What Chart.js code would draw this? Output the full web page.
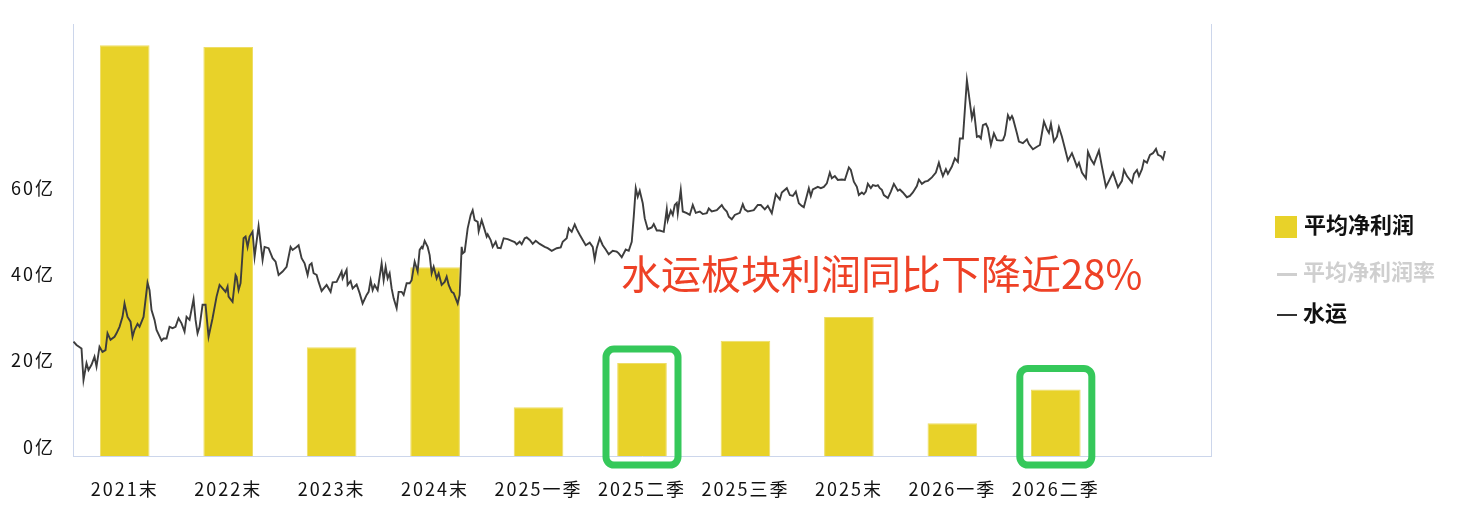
<!DOCTYPE html>
<html>
<head>
<meta charset="utf-8">
<script src="https://cdn.jsdelivr.net/npm/chart.js@4.4.1/dist/chart.umd.min.js"></script>
<style>
  body { margin: 0; background: #fff; }
  #wrap { position: relative; width: 1461px; height: 520px; font-family: "Noto Sans CJK SC", sans-serif; }
  #note { position: absolute; left: 621px; top: 252px; font-size: 40px; line-height: 1; color: #ee4126; white-space: nowrap; }
  .lg { position: absolute; left: 1275px; font-size: 22px; font-weight: 700; line-height: 1; white-space: nowrap; }
  .lg i { display: inline-block; vertical-align: middle; margin-right: 7px; }
</style>
</head>
<body>
<div id="wrap">
  <canvas id="chart"></canvas>
  <div id="note">水运板块利润同比下降近28%</div>
  <div class="lg" style="top:212px;color:#111"><i style="width:22px;height:22px;background:#e8d229"></i>平均净利润</div>
  <div class="lg" style="top:259px;color:#cfcfcf"><i style="width:20px;height:3px;background:#cfcfcf;margin-left:2px;margin-right:6px"></i>平均净利润率</div>
  <div class="lg" style="top:300px;color:#111"><i style="width:20px;height:2px;background:#333;margin-left:2px;margin-right:6px"></i>水运</div>
</div>
<script>
// periods on the x axis (last slot is left empty)
const categories = ['2021末', '2022末', '2023末', '2024末', '2025一季', '2025二季', '2025三季', '2025末', '2026一季', '2026二季', ''];
// average net profit, 亿
const avgProfit = [95.1, 94.7, 25.2, 43.7, 11.3, 21.5, 26.7, 32.2, 7.6, 15.4, null];
const yTicks = [0, 20, 40, 60];

// 水运 index, trading-day offset and level (hidden axis)
const lineDay = [0,3,8,10,13,15,18,21,23,26,29,32,34,37,41,43,46,49,51,54,57,59,61,64,66,70,74,76,78,81,83,88,90,93,96,99,102,105,108,111,113,116,120,122,124,126,129,132,135,139,143,146,149,152,154,155,159,162,163,165,167,170,172,174,176,179,181,185,189,191,195,199,202,205,209,213,217,219,223,225,228,231,234,236,238,240,243,245,248,253,257,259,263,268,269,273,274,277,279,283,286,289,293,295,297,299,301,304,308,310,312,314,316,318,320,323,325,328,330,333,336,338,341,344,346,348,349,351,354,356,358,360,363,365,368,371,373,375,378,380,384,386,388,389,391,394,397,399,401,404,405,408,410,413,414,417,419,422,424,427,430,434,438,441,443,446,448,451,453,456,459,462,466,471,474,478,483,487,489,493,495,498,501,503,506,509,512,516,519,521,523,526,529,532,535,539,543,545,548,552,555,558,560,562,564,566,569,571,574,578,580,583,586,590,593,594,597,599,601,603,604,607,609,613,616,619,622,626,629,633,635,638,643,648,650,653,655,658,661,666,669,671,674,678,680,684,687,691,694,698,702,704,706,708,713,716,719,722,725,728,730,735,737,739,744,747,750,753,756,758,761,764,768,771,775,777,780,783,785,788,790,792,794,797,799,802,804,806,808,810,814,817,820,824,826,829,833,836,839,843,845,848,851,854,858,862,865,867,869,872,874,878,881,884,886,889,893,895,898,900,903,905,907,909,912,914,917,920,923,927,929,931,934,936,938,939,943,945,949,953,955,959,963,966,970,973,975,977,980,983,985,988,991,994,998,1000,1003,1005,1008,1012,1014,1017,1020,1022,1025,1028,1032,1035,1039,1044,1048,1050,1053,1058,1060,1063,1065,1068,1070,1073,1076,1079,1082,1084,1087,1089,1091];
const lineValue = [26.5,25.7,24.9,17.6,21.5,19.9,21.1,23.0,20.7,25.3,24.1,24.5,28.4,26.9,27.6,28.4,29.9,32.2,35.3,32.2,31.1,27.6,29.2,30.6,29.9,32.2,40.1,38.4,33.8,31.5,29.2,26.7,27.2,27.2,29.9,29.6,29.9,31.9,30.7,28.8,32.2,31.5,36.3,31.5,28.4,29.9,35.0,35.0,27.6,31.9,36.9,39.6,38.8,38.0,39.2,36.9,35.7,41.9,41.5,38.4,40.0,50.4,50.8,48.4,50.8,51.9,46.1,53.2,45.4,48.4,48.1,45.8,45.0,41.9,42.7,43.8,48.4,47.7,48.4,48.8,45.8,44.6,41.9,44.2,44.6,42.3,41.9,40.3,38.2,39.6,38.0,40.2,40.3,42.7,41.1,43.1,39.6,40.5,38.8,39.7,37.7,35.3,37.3,38.0,40.7,38.4,39.6,38.4,44.6,40.7,43.8,41.1,42.3,38.8,36.5,34.2,38.0,38.0,37.3,40.0,40.0,40.7,45.0,42.7,47.7,48.4,48.1,49.8,48.4,46.5,42.3,43.8,41.1,42.3,39.6,40.3,41.5,39.6,38.0,37.7,35.3,37.3,48.4,46.9,47.3,52.7,55.8,56.9,54.6,54.2,52.0,54.6,53.1,50.8,51.3,50.0,48.4,49.6,48.2,48.1,50.4,50.2,49.8,49.5,49.0,49.6,49.0,50.4,50.6,50.0,49.1,49.8,49.1,48.4,48.1,47.5,48.1,48.3,49.6,50.4,52.7,51.9,53.6,52.5,51.2,50.0,48.8,49.4,48.4,45.5,48.1,50.4,48.8,47.8,46.7,47.5,47.3,46.9,46.0,47.8,47.5,49.6,55.4,62.0,60.0,61.4,58.5,55.0,52.5,52.9,53.7,52.2,52.2,51.9,57.1,54.6,56.8,55.8,58.1,58.6,56.2,61.6,56.6,56.2,55.8,58.1,56.3,56.6,56.0,56.2,57.3,56.6,56.9,58.1,57.3,56.6,55.4,54.8,55.8,56.3,58.3,57.1,56.6,56.8,56.9,58.1,58.1,57.1,57.9,56.2,60.6,60.0,59.4,61.0,62.0,60.4,60.2,61.2,58.5,57.9,57.6,62.0,60.2,61.7,62.3,62.0,62.3,63.1,65.6,64.3,64.8,63.9,64.0,63.9,66.8,66.2,63.5,62.3,60.4,61.0,60.6,61.2,63.0,62.0,62.7,62.5,62.7,62.0,61.6,60.4,59.7,61.2,63.0,61.4,61.7,61.0,59.9,60.2,61.0,62.5,64.0,63.0,63.5,63.7,64.5,65.6,67.9,66.2,64.8,66.4,65.3,67.0,68.9,68.1,73.5,73.5,87.0,83.6,78.2,80.1,73.9,74.1,73.5,76.6,76.9,75.9,72.0,74.7,73.1,73.0,73.1,74.3,78.9,77.9,78.7,78.2,74.7,72.8,72.4,73.3,72.2,71.0,71.6,72.0,77.4,75.6,74.8,76.9,72.8,73.9,76.1,73.9,71.2,68.4,70.1,68.9,67.0,67.9,65.6,64.3,70.4,68.7,67.6,68.9,70.7,67.0,62.3,63.7,65.6,62.2,63.7,66.2,64.8,63.3,65.3,66.2,64.8,66.4,68.4,67.9,69.7,70.1,71.1,69.7,69.4,68.7,70.6];

// green frames drawn round two bars
const highlights = [
  { category: '2025二季', above: 14 },
  { category: '2026二季', above: 21 }
];

const axisLine = '#ccd6eb';

// text spacing like the original renderer
const spacingPlugin = {
  id: 'spacing',
  beforeDraw(chart) { chart.ctx.letterSpacing = '2px'; },
  afterDraw(chart) { chart.ctx.letterSpacing = '0px'; }
};

const framePlugin = {
  id: 'frames',
  afterDatasetsDraw(chart) {
    const ctx = chart.ctx;
    const meta = chart.getDatasetMeta(1);
    const base = chart.scales.y.getPixelForValue(0);
    ctx.save();
    ctx.strokeStyle = '#35c85a';
    ctx.lineWidth = 7;
    highlights.forEach(h => {
      const bar = meta.data[categories.indexOf(h.category)];
      const left = bar.x - 36, right = bar.x + 36;
      const top = bar.y - h.above, bottom = base + 9;
      ctx.beginPath();
      ctx.roundRect(left, top, right - left, bottom - top, 8);
      ctx.stroke();
    });
    ctx.restore();
  }
};

new Chart(document.getElementById('chart'), {
  type: 'bar',
  data: {
    labels: categories,
    datasets: [
      {
        type: 'line',
        label: '水运',
        data: lineDay.map((d, i) => ({ x: d, y: lineValue[i] })),
        xAxisID: 'xl',
        yAxisID: 'y2',
        grouped: false,
        borderColor: '#3d3d3d',
        borderWidth: 1.9,
        pointRadius: 0,
        tension: 0,
        order: 0
      },
      {
        label: '平均净利润',
        data: avgProfit,
        backgroundColor: '#e8d229',
        borderColor: '#eedd66',
        borderWidth: 1,
        grouped: false,
        barPercentage: 0.48,
        categoryPercentage: 1,
        order: 1
      }
    ]
  },
  options: {
    responsive: true,
    maintainAspectRatio: false,
    animation: false,
    layout: { padding: { top: 24, right: 250, left: 0, bottom: 0 } },
    plugins: { legend: { display: false }, tooltip: { enabled: false } },
    scales: {
      x: {
        grid: { display: false, drawTicks: false },
        border: { color: axisLine, width: 1 },
        ticks: { color: '#111', font: { size: 18, family: 'Noto Sans CJK SC' }, padding: 22, maxRotation: 0, autoSkip: false },
        afterFit(s) { s.height = 64; }
      },
      xl: {
        type: 'linear',
        position: 'bottom',
        offset: false,
        min: -0.5,
        max: 1137,
        grid: { display: false, drawTicks: false, offset: false },
        border: { display: false },
        ticks: { display: false },
        afterFit(s) { s.height = 0; }
      },
      y: {
        min: 0,
        max: 100,
        grid: { display: false, drawTicks: false },
        border: { color: axisLine, width: 1 },
        afterBuildTicks(s) { s.ticks = yTicks.map(v => ({ value: v })); },
        ticks: {
          color: '#111',
          font: { size: 18, family: 'Noto Sans CJK SC' },
          padding: 18,
          labelOffset: -9,
          callback: v => v + '亿'
        },
        afterFit(s) { s.width = 73; s.paddingTop = 0; s.paddingBottom = 0; }
      },
      y2: {
        position: 'right',
        min: 0,
        max: 100,
        grid: { display: false, drawTicks: false },
        border: { color: axisLine, width: 1 },
        ticks: { display: false },
        afterFit(s) { s.width = 0; s.paddingTop = 0; s.paddingBottom = 0; }
      }
    }
  },
  plugins: [spacingPlugin, framePlugin]
});
</script>
</body>
</html>
